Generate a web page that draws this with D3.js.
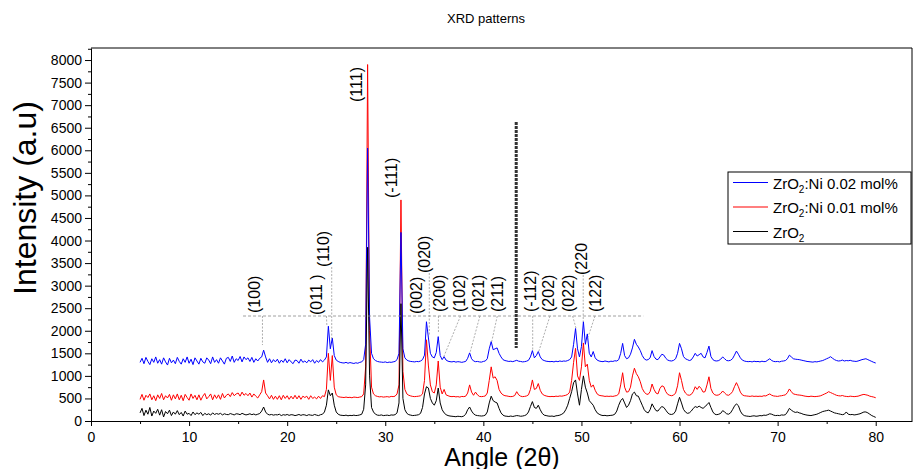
<!DOCTYPE html>
<html>
<head>
<meta charset="utf-8">
<script src="https://cdn.jsdelivr.net/npm/d3@7"></script>
<style>
  body { margin: 0; background: #fff; }
  svg { font-family: Arial, "Liberation Sans", sans-serif; }
</style>
</head>
<body>
<svg id="chart" width="914" height="469"></svg>
<script>
// sampling grid of the scans (2theta, degrees)
const angleStart = 5
const angleStep = 0.2

// ZrO2:Ni 0.02 mol% (one row per degree, 5 -> 79.8, then 80)
const blueCounts = [
  1300,1390,1270,1410,1320, 1250,1380,1300,1420,1280, 1360,1260,1400,1310,1240,
  1390,1290,1350,1270,1410, 1320,1260,1380,1300,1420, 1280,1370,1250,1400,1330,
  1260,1390,1310,1280,1400, 1350,1270,1420,1300,1360, 1280,1400,1330,1260,1390,
  1410,1320,1440,1300,1380, 1340,1430,1310,1420,1360, 1400,1320,1410,1300,1380,
  1330,1390,1420,1570,1420, 1300,1380,1290,1360,1310, 1370,1280,1350,1300,1380,
  1290,1360,1310,1270,1350, 1340,1280,1370,1300,1330, 1290,1350,1310,1360,1280,
  1340,1300,1360,1310,1350, 1420,2100,1600,1840,1450, 1350,1320,1300,1290,1285,
  1300,1280,1295,1285,1275, 1290,1280,1300,1310,1360, 1700,6050,2300,1500,1380,
  1340,1320,1310,1305,1300, 1310,1295,1305,1300,1310, 1320,1360,1500,4180,1600,
  1400,1350,1330,1320,1315, 1310,1320,1315,1330,1360, 1460,2200,1840,1500,1420,
  1400,1520,1870,1450,1360, 1425,1350,1325,1315,1310, 1320,1305,1315,1310,1300,
  1310,1320,1390,1510,1380, 1330,1315,1320,1310,1305, 1320,1330,1380,1600,1760,
  1580,1600,1620,1500,1420, 1360,1340,1330,1320,1325, 1315,1330,1345,1325,1320,
  1310,1315,1325,1345,1420, 1560,1400,1450,1540,1420, 1360,1340,1325,1320,1315,
  1320,1310,1325,1315,1330, 1320,1330,1325,1340,1360, 1420,1700,2050,1600,1420,
  1650,2200,1700,1930,1500, 1420,1540,1400,1350,1330, 1320,1315,1330,1320,1310,
  1325,1320,1335,1330,1360, 1500,1720,1450,1380,1400, 1480,1620,1810,1700,1640,
  1560,1450,1380,1350,1360, 1400,1560,1430,1370,1360, 1420,1480,1460,1390,1350,
  1335,1330,1345,1380,1500, 1720,1600,1430,1380,1360, 1340,1355,1420,1500,1440,
  1470,1500,1420,1400,1520, 1660,1430,1360,1335,1330, 1340,1370,1420,1380,1340,
  1335,1345,1380,1460,1550, 1480,1400,1350,1330,1320, 1315,1320,1310,1325,1315,
  1320,1310,1325,1315,1320, 1350,1380,1340,1320,1315, 1320,1310,1325,1330,1340,
  1380,1460,1420,1380,1370, 1365,1360,1350,1340,1330, 1320,1315,1310,1305,1315,
  1310,1320,1330,1340,1360, 1380,1400,1425,1390,1360, 1340,1330,1335,1350,1330,
  1340,1335,1345,1330,1325, 1320,1330,1345,1360,1370, 1380,1360,1340,1320,1300,
  1285
]

// ZrO2:Ni 0.01 mol%
const redCounts = [
  480,590,460,570,520, 600,470,560,450,580, 500,610,470,560,510,
  590,460,580,490,600, 470,570,450,590,520, 460,600,500,570,470,
  580,460,550,610,490, 540,600,470,580,500, 580,480,610,510,570,
  600,540,630,560,600, 620,550,640,570,610, 560,620,530,600,550,
  510,580,650,910,620, 560,490,570,480,550, 480,560,470,570,500,
  560,480,550,490,570, 490,560,480,550,520, 550,480,560,500,530,
  490,550,500,560,540, 700,1500,900,1450,750, 580,540,530,525,520,
  530,520,525,515,530, 525,520,530,540,600, 1200,7900,2000,750,600,
  560,545,535,540,530, 535,540,530,545,540, 550,600,800,4900,1100,
  700,600,570,555,545, 540,545,550,560,600, 900,1800,1220,800,650,
  620,800,1330,750,600, 700,580,560,545,540, 545,535,540,530,545,
  540,550,620,800,640, 570,640,580,545,540, 545,555,620,900,1200,
  950,980,900,700,620, 580,560,555,545,540, 545,565,650,580,550,
  540,545,555,580,700, 910,700,720,830,680, 600,570,555,545,540,
  545,540,550,545,555, 550,560,570,590,640, 900,1300,1610,1000,900,
  1200,1730,1200,1260,900, 750,800,680,600,570, 560,555,545,550,545,
  550,545,555,565,600, 800,1070,750,640,650, 750,1000,1170,1050,980,
  870,720,640,600,590, 650,820,700,620,600, 720,780,760,650,590,
  570,560,575,620,780, 1070,900,700,620,580, 570,590,650,760,700,
  770,720,640,650,800, 980,720,620,580,570, 580,610,665,620,580,
  570,600,650,760,850, 760,640,580,560,555, 550,545,555,545,550,
  545,550,545,560,555, 580,600,570,555,550, 545,555,560,570,580,
  630,710,650,600,590, 580,575,570,560,550, 545,540,550,545,540,
  545,550,560,580,600, 620,650,630,610,590, 570,560,555,565,550,
  545,540,550,545,540, 545,550,565,580,590, 580,570,550,540,530,
  515
]

// ZrO2
const blackCounts = [
  180,280,120,240,150, 300,110,220,170,260, 130,250,90,210,160,
  240,120,200,150,230, 140,190,110,220,150, 170,120,200,140,180,
  150,190,120,170,140, 160,130,180,145,165, 150,170,135,160,145,
  140,165,150,135,160, 155,140,170,150,135, 145,160,140,155,135,
  150,165,220,310,200, 150,135,145,130,140, 135,150,120,140,130,
  145,125,140,135,120, 130,145,125,140,135, 120,140,130,125,145,
  130,120,140,150,200, 350,690,560,620,350, 200,150,130,125,120,
  130,115,125,120,130, 120,125,135,150,260, 800,3850,1000,300,200,
  150,130,125,135,120, 125,130,120,135,130, 140,180,400,2600,500,
  250,170,140,130,120, 125,130,140,170,300, 600,760,730,500,400,
  350,450,730,400,250, 180,140,120,110,105, 100,95,105,100,95,
  110,150,250,310,220, 160,130,120,115,110, 115,130,200,400,550,
  450,420,400,280,180, 130,110,105,100,110, 100,110,120,115,105,
  110,120,140,200,320, 430,300,280,350,250, 170,130,120,110,105,
  110,100,115,120,130, 150,180,250,350,500, 650,850,910,600,350,
  700,1000,750,620,450, 400,350,250,180,150, 130,120,125,115,120,
  125,130,150,220,350, 450,500,400,300,350, 450,600,640,560,550,
  450,350,250,200,180, 250,380,300,230,220, 280,320,300,240,180,
  150,145,160,220,380, 525,400,260,200,170, 180,220,280,320,300,
  330,300,280,320,360, 410,300,200,150,140, 150,170,230,200,160,
  150,180,250,330,380, 340,220,150,120,110, 105,100,110,115,105,
  110,120,115,130,125, 140,160,150,130,120, 125,120,135,130,140,
  200,280,240,210,190, 200,180,170,150,140, 130,125,120,130,140,
  150,170,190,210,220, 230,240,220,200,180, 170,160,150,140,150,
  200,150,140,145,135, 140,150,160,180,200, 200,180,150,120,100,
  80
]

const seriesNames = [
  ['ZrO', '2', ':Ni 0.02 mol%'],
  ['ZrO', '2', ':Ni 0.01 mol%'],
  ['ZrO', '2', '']
]
const seriesColors = ['#0000ff', '#ff0000', '#000000']

const xTicks = [0, 10, 20, 30, 40, 50, 60, 70, 80]
const yTicks = [0, 500, 1000, 1500, 2000, 2500, 3000, 3500, 4000,
                4500, 5000, 5500, 6000, 6500, 7000, 7500, 8000]

// miller index labels: label anchor (angle, intensity) and leader line
const peakLabels = [
  { hkl: '(100)',  lx: 17.23, ly: 2394, x1: 17.48, y1: 2327, x2: 17.48, y2: 1684 },
  { hkl: '(011 )', lx: 23.55, ly: 2349, x1: 24.0,  y1: 2327, x2: 24.05, y2: 2105 },
  { hkl: '(110)',  lx: 24.26, ly: 3413, x1: 24.54, y1: 3413, x2: 24.54, y2: 1795 },
  { hkl: '(111)',  lx: 27.62, ly: 7070 },
  { hkl: '(-111)', lx: 31.19, ly: 4942 },
  { hkl: '(002)',  lx: 33.74, ly: 2371 },
  { hkl: '(020)',  lx: 34.56, ly: 3280, x1: 34.49, y1: 3280, x2: 34.49, y2: 1906 },
  { hkl: '(200)',  lx: 36.09, ly: 2416, x1: 35.42, y1: 2327, x2: 35.42, y2: 1950 },
  { hkl: '(102)',  lx: 38.13, ly: 2416, x1: 37.67, y1: 2327, x2: 35.91, y2: 1396 },
  { hkl: '(021)',  lx: 40.06, ly: 2416, x1: 39.65, y1: 2327, x2: 38.63, y2: 1507 },
  { hkl: '(211)',  lx: 42.0,  ly: 2416, x1: 41.42, y1: 2327, x2: 40.85, y2: 1758 },
  { hkl: '(-112)', lx: 45.36, ly: 2416, x1: 45.03, y1: 2327, x2: 45.03, y2: 1574 },
  { hkl: '(202)',  lx: 47.19, ly: 2416, x1: 46.79, y1: 2327, x2: 45.6,  y2: 1507 },
  { hkl: '(022)',  lx: 49.24, ly: 2416, x1: 49.1,  y1: 2327, x2: 49.44, y2: 2061 },
  { hkl: '(220',   lx: 50.56, ly: 3236, x1: 50.18, y1: 3236, x2: 50.18, y2: 2201 },
  { hkl: '(122)',  lx: 51.99, ly: 2416, x1: 51.38, y1: 2327, x2: 50.69, y2: 1868 }
]
const baseLine = { x1: 15.5, x2: 56.3, y: 2327 }      // dashed guide under the labels
const markerLine = { x: 43.35, y1: 6627, y2: 1618 }   // thick dashed marker

const svg = d3.select('#chart')

const margin = { top: 48, right: 2, bottom: 48, left: 91 }
const width = 914
const height = 469

const xScale = d3.scaleLinear()
    .domain([0, 83.7])
    .range([margin.left, width - margin.right])

const yScale = d3.scaleLinear()
    .domain([0, 8267])
    .range([height - margin.bottom, margin.top])

const angleAt = i => angleStart + angleStep * i

// title
svg.append('text')
    .attr('x', 486)
    .attr('y', 23)
    .attr('text-anchor', 'middle')
    .style('font-size', '13px')
    .text('XRD patterns')

// frame top and right
svg.append('line')
    .attr('x1', xScale.range()[0]).attr('x2', xScale.range()[1])
    .attr('y1', yScale.range()[1]).attr('y2', yScale.range()[1])
    .style('stroke', '#000').style('stroke-width', 1)
svg.append('line')
    .attr('x1', xScale.range()[1]).attr('x2', xScale.range()[1])
    .attr('y1', yScale.range()[0]).attr('y2', yScale.range()[1])
    .style('stroke', '#000').style('stroke-width', 1)

// minor ticks
const xMinor = d3.range(5, 83, 10)
const yMinor = d3.range(250, 8267, 500)

svg.append('g')
    .attr('transform', `translate(0, ${yScale(0)})`)
    .call(d3.axisBottom(xScale).tickValues(xMinor).tickSize(3).tickFormat(''))
    .call(g => g.select('.domain').remove())

svg.append('g')
    .attr('transform', `translate(${xScale(0)}, 0)`)
    .call(d3.axisLeft(yScale).tickValues(yMinor).tickSize(3).tickFormat(''))
    .call(g => g.select('.domain').remove())

// main axes
const xAxisG = svg.append('g')
    .attr('transform', `translate(0, ${yScale(0)})`)
    .call(d3.axisBottom(xScale).tickValues(xTicks).tickSize(5).tickPadding(6).tickSizeOuter(0))
xAxisG.selectAll('text').style('font-size', '14px').style('fill', '#000')

const yAxisG = svg.append('g')
    .attr('transform', `translate(${xScale(0)}, 0)`)
    .call(d3.axisLeft(yScale).tickValues(yTicks).tickFormat(d3.format('d'))
        .tickSize(6).tickPadding(3).tickSizeOuter(0))
yAxisG.selectAll('text').style('font-size', '14px').style('fill', '#000')

// axis titles
svg.append('text')
    .attr('transform', `translate(36, 198) rotate(-90)`)
    .attr('text-anchor', 'middle')
    .style('font-size', '32px')
    .text('Intensity (a.u)')

svg.append('text')
    .attr('x', 502)
    .attr('y', 466)
    .attr('text-anchor', 'middle')
    .style('font-size', '25px')
    .text('Angle (2θ)')

// scans, red first then blue then black on top
const line = d3.line()
    .x((d, i) => xScale(angleAt(i)))
    .y(d => yScale(d))

const scans = [
  { counts: redCounts, color: seriesColors[1] },
  { counts: blueCounts, color: seriesColors[0] },
  { counts: blackCounts, color: seriesColors[2] }
]

svg.append('g')
    .selectAll('path')
    .data(scans)
    .enter()
    .append('path')
        .attr('d', d => line(d.counts))
        .style('fill', 'none')
        .style('stroke', d => d.color)
        .style('stroke-width', 1)

// guides
svg.append('line')
    .attr('x1', xScale(baseLine.x1)).attr('x2', xScale(baseLine.x2))
    .attr('y1', yScale(baseLine.y)).attr('y2', yScale(baseLine.y))
    .style('stroke', '#888').style('stroke-width', 0.8).style('stroke-dasharray', '3,2')

svg.append('line')
    .attr('x1', xScale(markerLine.x)).attr('x2', xScale(markerLine.x))
    .attr('y1', yScale(markerLine.y1)).attr('y2', yScale(markerLine.y2))
    .style('stroke', '#333').style('stroke-width', 3).style('stroke-dasharray', '3,1')

svg.append('g')
    .selectAll('line')
    .data(peakLabels.filter(d => d.x1 !== undefined))
    .enter()
    .append('line')
        .attr('x1', d => xScale(d.x1)).attr('y1', d => yScale(d.y1))
        .attr('x2', d => xScale(d.x2)).attr('y2', d => yScale(d.y2))
        .style('stroke', '#999').style('stroke-width', 0.8).style('stroke-dasharray', '2,1.5')

svg.append('g')
    .selectAll('text')
    .data(peakLabels)
    .enter()
    .append('text')
        .attr('transform', d => `translate(${xScale(d.lx)}, ${yScale(d.ly)}) rotate(-90)`)
        .style('font-size', '16px')
        .text(d => d.hkl)

// legend
const legend = svg.append('g').attr('transform', 'translate(728, 172)')
legend.append('rect')
    .attr('width', 183).attr('height', 72)
    .style('fill', '#fff').style('stroke', '#000').style('stroke-width', 1)

const entry = legend.selectAll('g.entry')
    .data(seriesNames)
    .enter()
    .append('g')
        .attr('class', 'entry')
        .attr('transform', (d, i) => `translate(0, ${10.5 + i * 24.5})`)

entry.append('line')
    .attr('x1', 5).attr('x2', 40)
    .style('stroke', (d, i) => seriesColors[i]).style('stroke-width', 1.2)

const label = entry.append('text')
    .attr('x', 45).attr('y', 6)
    .style('font-size', '15px')
label.append('tspan').text(d => d[0])
label.append('tspan').attr('dy', 4).style('font-size', '10px').text(d => d[1])
label.append('tspan').attr('dy', -4).text(d => d[2])
</script>
</body>
</html>
